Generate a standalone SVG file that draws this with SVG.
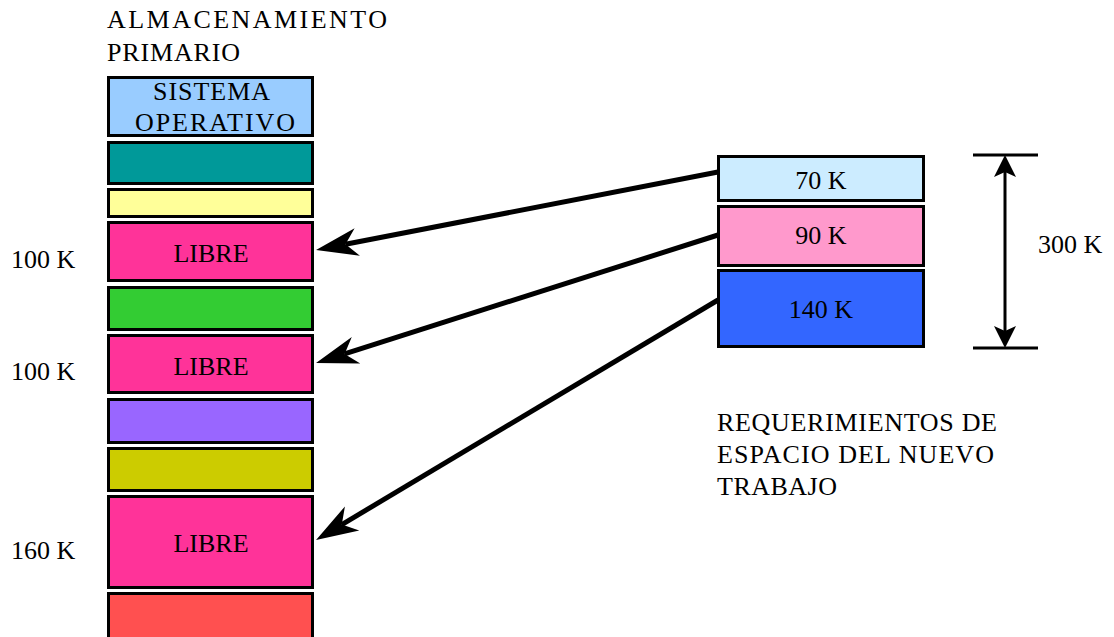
<svg xmlns="http://www.w3.org/2000/svg" width="1114" height="637" viewBox="0 0 1114 637">
<style>
.blk{stroke:#000;stroke-width:3}
.t{font-family:"Liberation Serif","Times New Roman",serif;font-size:26px;fill:#000}
.c{text-anchor:middle}
.conn{stroke:#000;stroke-width:5;fill:none}
.dim{stroke:#000;stroke-width:3;fill:none}
</style>
<defs>
<marker id="ah" markerUnits="userSpaceOnUse" viewBox="-14 -16 46 32" markerWidth="46" markerHeight="32" refX="0" refY="0" orient="auto">
<path d="M30,0 L-12,-14 L0,0 L-12,14 Z" fill="#000"/>
</marker>
<marker id="dh" markerUnits="userSpaceOnUse" viewBox="-8 -13 28 26" markerWidth="28" markerHeight="26" refX="0" refY="0" orient="auto-start-reverse">
<path d="M17,0 L-5,-11 L0,0 L-5,11 Z" fill="#000"/>
</marker>
</defs>
<rect width="1114" height="637" fill="#fff"/>

<g id="title">
<text class="t" x="107" y="28" textLength="280" lengthAdjust="spacing">ALMACENAMIENTO</text>
<text class="t" x="107" y="61" textLength="133" lengthAdjust="spacing">PRIMARIO</text>
</g>

<g id="memory">
<g id="so"><rect class="blk" x="108.5" y="77.5" width="204" height="58" fill="#99CCFF"/>
<text class="t" x="153" y="100" textLength="117" lengthAdjust="spacing">SISTEMA</text>
<text class="t" x="135" y="131" textLength="160" lengthAdjust="spacing">OPERATIVO</text></g>
<g id="m1"><rect class="blk" x="108.5" y="142.5" width="204" height="41" fill="#009999"/></g>
<g id="m2"><rect class="blk" x="108.5" y="189.5" width="204" height="27" fill="#FFFF99"/></g>
<g id="libre1"><rect class="blk" x="108.5" y="222.5" width="204" height="58" fill="#FF3399"/>
<text class="t c" x="211" y="262">LIBRE</text></g>
<g id="m3"><rect class="blk" x="108.5" y="287.5" width="204" height="42" fill="#33CC33"/></g>
<g id="libre2"><rect class="blk" x="108.5" y="335.5" width="204" height="57" fill="#FF3399"/>
<text class="t c" x="211" y="375">LIBRE</text></g>
<g id="m4"><rect class="blk" x="108.5" y="399.5" width="204" height="43" fill="#9966FF"/></g>
<g id="m5"><rect class="blk" x="108.5" y="448.5" width="204" height="42" fill="#CCCC00"/></g>
<g id="libre3"><rect class="blk" x="108.5" y="496.5" width="204" height="91" fill="#FF3399"/>
<text class="t c" x="211" y="552">LIBRE</text></g>
<g id="m6"><rect class="blk" x="108.5" y="593.5" width="204" height="50" fill="#FF5050"/></g>
</g>

<g id="sizes">
<text class="t" x="11" y="268">100 K</text>
<text class="t" x="11" y="380">100 K</text>
<text class="t" x="11" y="559">160 K</text>
</g>

<g id="job">
<g id="j70"><rect class="blk" x="718.5" y="156.5" width="205" height="44" fill="#CCECFF"/>
<text class="t c" x="821" y="189">70 K</text></g>
<g id="j90"><rect class="blk" x="718.5" y="206.5" width="205" height="59" fill="#FF99CC"/>
<text class="t c" x="821" y="244">90 K</text></g>
<g id="j140"><rect class="blk" x="718.5" y="270.5" width="205" height="76" fill="#3366FF"/>
<text class="t c" x="821" y="318">140 K</text></g>
</g>

<g id="dimension">
<line class="dim" x1="973" y1="155" x2="1038" y2="155"/>
<line class="dim" x1="973" y1="348" x2="1038" y2="348"/>
<line class="dim" x1="1005" y1="172" x2="1005" y2="331" marker-start="url(#dh)" marker-end="url(#dh)"/>
<text class="t" x="1038" y="253">300 K</text>
</g>

<g id="caption">
<text class="t" x="717" y="431" textLength="280" lengthAdjust="spacing">REQUERIMIENTOS DE</text>
<text class="t" x="717" y="463" textLength="277" lengthAdjust="spacing">ESPACIO DEL NUEVO</text>
<text class="t" x="717" y="495" textLength="120" lengthAdjust="spacing">TRABAJO</text>
</g>

<g id="connectors">
<line class="conn" x1="718" y1="172" x2="345.5" y2="244.3" marker-end="url(#ah)"/>
<line class="conn" x1="718" y1="235" x2="344.6" y2="353.9" marker-end="url(#ah)"/>
<line class="conn" x1="718" y1="300" x2="341.8" y2="524.6" marker-end="url(#ah)"/>
</g>
</svg>
